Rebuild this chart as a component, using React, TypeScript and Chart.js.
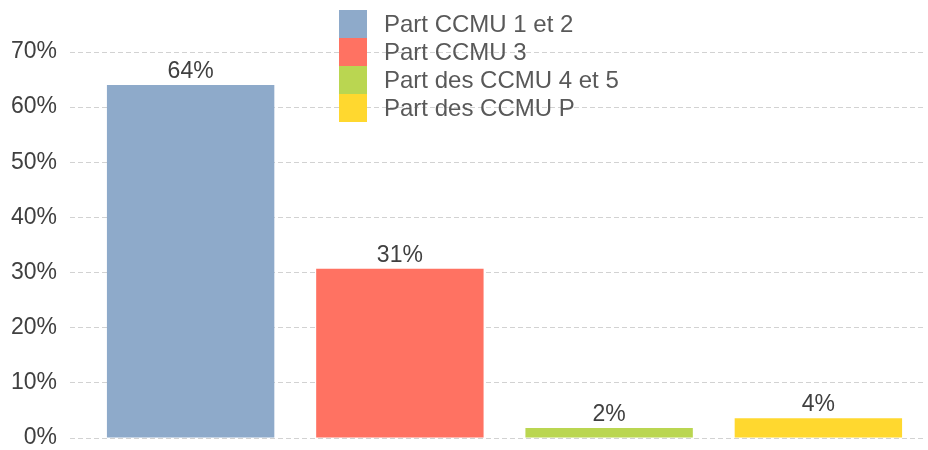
import React, { useEffect, useRef } from "react";
import { Chart, registerables } from "chart.js";

Chart.register(...registerables);

const categories = ["CCMU 1 et 2", "CCMU 3", "CCMU 4 et 5", "CCMU P"];
const seriesLabels = ["Part CCMU 1 et 2", "Part CCMU 3", "Part des CCMU 4 et 5", "Part des CCMU P"];
const values = [64.0, 30.7, 1.8, 3.6];
const colors = ["#8eaaca", "#ff7262", "#bad651", "#ffd82f"];
const yTickStep = 5;
const yMax = 70;

const FONT = "'Liberation Sans', Arial, sans-serif";

const valueLabels = {
  id: "valueLabels",
  afterDatasetsDraw(chart: any) {
    const ctx = chart.ctx;
    ctx.save();
    ctx.font = `23px ${FONT}`;
    ctx.fillStyle = "#404040";
    ctx.textAlign = "center";
    ctx.textBaseline = "alphabetic";
    chart.data.datasets.forEach((ds: any, di: number) => {
      const meta = chart.getDatasetMeta(di);
      meta.data.forEach((el: any, i: number) => {
        const v = ds.data[i];
        if (v === null || v === undefined) return;
        ctx.fillText(Math.round(v) + "%", el.x, el.y - 7);
      });
    });
    ctx.restore();
  },
};

const overlayLegend = {
  id: "overlayLegend",
  afterDraw(chart: any) {
    const ctx = chart.ctx;
    ctx.save();
    const x0 = 339;
    const y0 = 10;
    const row = 28;
    chart.data.datasets.forEach((ds: any, i: number) => {
      ctx.fillStyle = ds.backgroundColor;
      ctx.fillRect(x0, y0 + i * row, 28, row);
      ctx.fillStyle = "#595959";
      ctx.font = `24px ${FONT}`;
      ctx.textAlign = "left";
      ctx.textBaseline = "middle";
      ctx.fillText(ds.label, 384, y0 + i * row + row / 2 + 1);
    });
    ctx.restore();
  },
};

export default function App() {
  const ref = useRef<HTMLCanvasElement>(null);
  useEffect(() => {
    if (!ref.current) return;
    const datasets = values.map((v, i) => ({
      label: seriesLabels[i],
      data: categories.map((_, j) => (j === i ? v : null)),
      backgroundColor: colors[i],
      borderWidth: 0,
      grouped: false,
      barPercentage: 0.8,
      categoryPercentage: 1.0,
    }));
    const isMajor = (c: any) => c.tick && Math.round(c.tick.value) % 10 === 0;
    const chart = new Chart(ref.current, {
      type: "bar",
      data: { labels: categories, datasets },
      options: {
        animation: false,
        responsive: true,
        maintainAspectRatio: false,
        layout: { padding: { top: 52, bottom: 12, right: 5, left: 0 } },
        plugins: { legend: { display: false }, tooltip: { enabled: false } },
        scales: {
          x: { display: false },
          y: {
            min: 0,
            max: yMax,
            afterFit: (s: any) => {
              s.width = 86;
              s.paddingTop = 0;
              s.paddingBottom = 0;
            },
            ticks: {
              stepSize: yTickStep,
              padding: 13,
              color: "#404040",
              font: { size: 23, family: FONT },
              callback: (v: any) => (Math.round(v) % 10 === 0 ? v + "%" : ""),
            },
            grid: {
              color: (c: any) => (isMajor(c) ? "#d2d2d2" : "#efefef"),
              tickColor: (c: any) => (isMajor(c) ? "#d2d2d2" : "#efefef"),
              tickBorderDash: (c: any) => (isMajor(c) ? [5, 3] : []),
              tickLength: 16,
              lineWidth: 1,
            },
            border: {
              display: false,
              dash: (c: any) => (isMajor(c) ? [5, 3] : []),
            },
          },
        },
      },
      plugins: [valueLabels, overlayLegend],
    } as any);
    return () => chart.destroy();
  }, []);
  return (
    <div style={{ position: "fixed", left: 0, top: 0, width: 928, height: 450, background: "#fff" }}>
      <canvas ref={ref} />
    </div>
  );
}
